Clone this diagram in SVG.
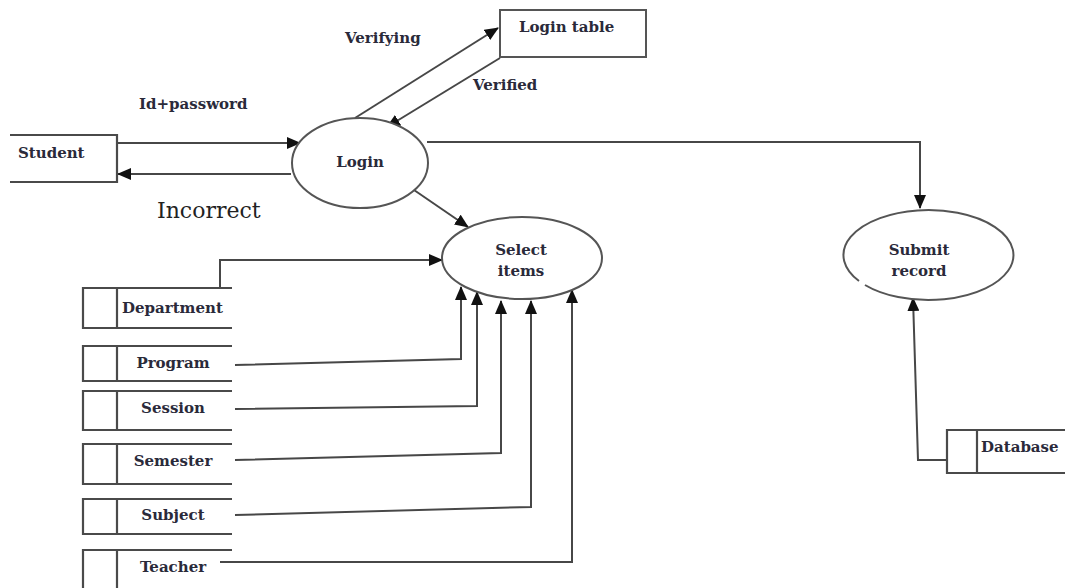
<svg xmlns="http://www.w3.org/2000/svg" width="1065" height="588" viewBox="0 0 1065 588">
<style>
.ln{fill:none;stroke:#474747;stroke-width:2}
.sh{fill:#fff;stroke:#555;stroke-width:2}
.st{fill:none;stroke:#4a4a4a;stroke-width:2.2}
.t{font-family:"DejaVu Serif","Liberation Serif",serif;font-size:15px;font-weight:bold;fill:#2a2a3a}
.tc{text-anchor:middle}
.big{font-family:"DejaVu Serif","Liberation Serif",serif;font-size:22px;fill:#222}
</style>
<defs>
<marker id="ah" markerWidth="14" markerHeight="12" refX="13" refY="6" orient="auto" markerUnits="userSpaceOnUse">
<path d="M0,0 L14,6 L0,12 Z" fill="#111"/>
</marker>
</defs>
<rect width="1065" height="588" fill="#fff"/>

<g id="connectors">
<line class="ln" x1="355" y1="118" x2="498" y2="28" marker-end="url(#ah)"/>
<line class="ln" x1="500" y1="58" x2="387" y2="127" marker-end="url(#ah)"/>
<line class="ln" x1="117" y1="143" x2="300" y2="143" marker-end="url(#ah)"/>
<line class="ln" x1="291" y1="174" x2="118" y2="174" marker-end="url(#ah)"/>
<polyline class="ln" points="427,142 920,142 920,208" marker-end="url(#ah)"/>
<line class="ln" x1="414" y1="190" x2="468" y2="227" marker-end="url(#ah)"/>
<polyline class="ln" points="220,288 220,260 442,260" marker-end="url(#ah)"/>
<polyline class="ln" points="235,365 461,359 461,287" marker-end="url(#ah)"/>
<polyline class="ln" points="235,409 477,406 477,292" marker-end="url(#ah)"/>
<polyline class="ln" points="235,460 501,453 501,301" marker-end="url(#ah)"/>
<polyline class="ln" points="235,515 531,507 531,301" marker-end="url(#ah)"/>
<polyline class="ln" points="220,562 572,562 572,290" marker-end="url(#ah)"/>
<polyline class="ln" points="947,460 918,460 913,298" marker-end="url(#ah)"/>
</g>

<g id="login-table">
<rect class="sh" x="500" y="10" width="146" height="47"/>
<text class="t" x="519" y="32">Login table</text>
</g>

<g id="student">
<path class="st" d="M10,135 H117 V182 H10"/>
<text class="t" x="18" y="158">Student</text>
</g>

<g id="login">
<ellipse class="sh" cx="360" cy="163" rx="68" ry="45"/>
<text class="t tc" x="360" y="167">Login</text>
</g>

<g id="select-items">
<ellipse class="sh" cx="522" cy="258" rx="80" ry="41"/>
<text class="t tc" x="521" y="255">Select</text>
<text class="t tc" x="521" y="276">items</text>
</g>

<g id="submit-record">
<path class="sh" d="M865,285 A85,45 0 1 0 859,281"/>
<text class="t tc" x="919" y="255">Submit</text>
<text class="t tc" x="919" y="276">record</text>
</g>

<g id="database">
<path class="st" d="M1065,430 H947 V473 H1065 M977,430 V473"/>
<text class="t" x="981" y="452">Database</text>
</g>

<g id="department">
<path class="st" d="M232,288 H83 V328 H232 M117,288 V328"/>
<text class="t" x="122" y="313">Department</text>
</g>
<g id="program">
<path class="st" d="M232,346 H83 V381 H232 M117,346 V381"/>
<text class="t tc" x="173" y="368">Program</text>
</g>
<g id="session">
<path class="st" d="M232,391 H83 V430 H232 M117,391 V430"/>
<text class="t tc" x="173" y="413">Session</text>
</g>
<g id="semester">
<path class="st" d="M232,444 H83 V484 H232 M117,444 V484"/>
<text class="t tc" x="173" y="466">Semester</text>
</g>
<g id="subject">
<path class="st" d="M232,499 H83 V534 H232 M117,499 V534"/>
<text class="t tc" x="173" y="520">Subject</text>
</g>
<g id="teacher">
<path class="st" d="M232,550 H83 V590 M117,550 V590"/>
<text class="t tc" x="173" y="572">Teacher</text>
</g>

<g id="labels">
<text class="t" x="345" y="43">Verifying</text>
<text class="t" x="473" y="90">Verified</text>
<text class="t" x="139" y="109">Id+password</text>
<text class="big" x="157" y="218">Incorrect</text>
</g>
</svg>
